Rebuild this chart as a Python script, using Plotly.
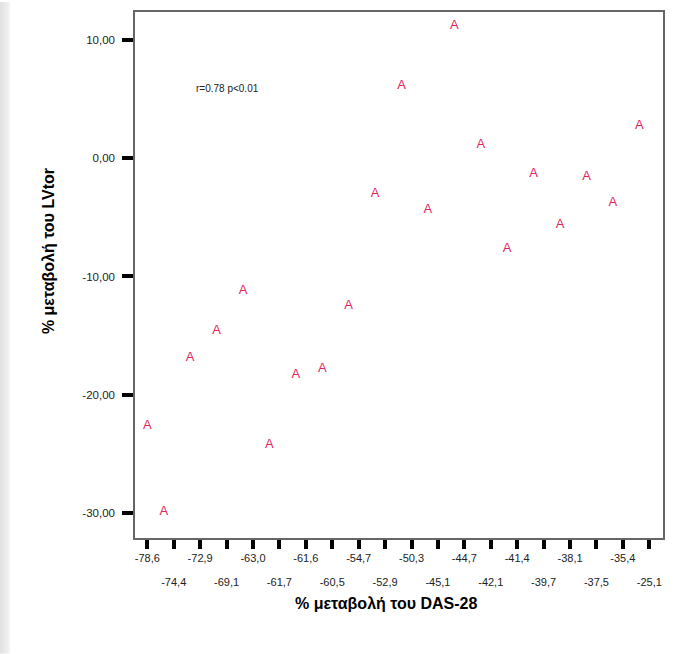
import plotly.graph_objects as go

# Categories on the x axis (% change of DAS-28), in axis order
das28_labels = ["-78,6", "-74,4", "-72,9", "-69,1", "-63,0", "-61,7", "-61,6", "-60,5",
                "-54,7", "-52,9", "-50,3", "-45,1", "-44,7", "-42,1", "-41,4", "-39,7",
                "-38,1", "-37,5", "-35,4", "-25,1"]

# % change of LVtor for each category
lvtor_change = [-22.6, -29.9, -16.9, -14.6, -11.2, -24.2, -18.3, -17.8,
                -12.5, -3.0, 6.1, -4.4, 11.2, 1.1, -7.7, -1.3,
                -5.6, -1.6, -3.8, 2.7]

y_tickvals = [10, 0, -10, -20, -30]
y_ticktext = ["10,00", "0,00", "-10,00", "-20,00", "-30,00"]

x_pos = list(range(len(das28_labels)))
odd_idx = [i for i in x_pos if i % 2 == 1]

FONT = "Liberation Sans, Arial, sans-serif"
MARK = "#e2275e"

W, H = 694, 654
L, T, R, B = 135, 10, 31, 116
PW, PH = W - L - R, H - T - B


def px_x(xp):
    return (xp - L) / PW


def px_y(yp):
    return (H - B - yp) / PH


fig = go.Figure()
fig.add_trace(go.Scatter(
    x=x_pos, y=lvtor_change,
    mode="markers+text",
    text=["A"] * len(x_pos),
    textposition=["middle center"] + ["middle left"] * (len(x_pos) - 1),
    textfont=dict(family=FONT, size=13, color=MARK),
    marker=dict(size=7.4, opacity=0),
    hoverinfo="skip",
    showlegend=False,
    cliponaxis=False,
))

xrange = [-0.466, 19.52]
fig.update_layout(
    width=W, height=H,
    margin=dict(l=L, r=R, t=T, b=B),
    paper_bgcolor="white", plot_bgcolor="white",
    showlegend=False,
    xaxis=dict(
        range=xrange, tickmode="array", tickvals=x_pos,
        ticktext=[das28_labels[i] if i % 2 == 0 else "" for i in x_pos],
        ticks="outside", ticklen=9, tickwidth=3.5, tickcolor="black",
        showline=True, linecolor="#666666", linewidth=1.5, mirror=True,
        showgrid=False, zeroline=False,
        tickfont=dict(family=FONT, size=11, color="#222222"),
    ),
    xaxis2=dict(
        range=xrange, overlaying="x", anchor="y", side="bottom",
        tickmode="array", tickvals=odd_idx,
        ticktext=[das28_labels[i] for i in odd_idx],
        ticks="", showline=False, showgrid=False, zeroline=False,
        ticklabelstandoff=36,
        tickfont=dict(family=FONT, size=11, color="#222222"),
    ),
    yaxis=dict(
        range=[-32.08, 12.33], tickmode="array", tickvals=y_tickvals, ticktext=y_ticktext,
        ticks="outside", ticklen=11, tickwidth=4, tickcolor="black",
        showline=True, linecolor="#666666", linewidth=1.5, mirror=True,
        showgrid=False, zeroline=False, ticklabelstandoff=5,
        tickfont=dict(family=FONT, size=11.5, color="#222222"),
    ),
)

# invisible trace to bind xaxis2
fig.add_trace(go.Scatter(x=[x_pos[0]], y=[lvtor_change[0]], xaxis="x2", mode="markers",
                         marker=dict(opacity=0), hoverinfo="skip", showlegend=False))

fig.add_annotation(text="r=0.78 p<0.01", xref="paper", yref="paper",
                   x=px_x(227), y=px_y(87), xanchor="center", yanchor="middle", showarrow=False,
                   font=dict(family=FONT, size=10, color="#222222"))
fig.add_annotation(text="<b>% μεταβολή του DAS-28</b>", xref="paper", yref="paper",
                   x=px_x(386), y=px_y(604), xanchor="center", yanchor="middle", showarrow=False,
                   font=dict(family=FONT, size=16, color="black"))
fig.add_annotation(text="<b>% μεταβολή του LVtor</b>", xref="paper", yref="paper",
                   x=px_x(48), y=px_y(250), xanchor="center", yanchor="middle", showarrow=False,
                   textangle=-90,
                   font=dict(family=FONT, size=16, color="black"))

# left page-edge shading strip
greys = ["#e2e2e2", "#e6e6e6", "#eaeaea", "#eeeeee", "#f3f3f3"]
for k, g in enumerate(greys):
    fig.add_shape(type="rect", xref="paper", yref="paper", layer="below",
                  x0=px_x(2 * k), x1=px_x(2 * k + 2),
                  y0=px_y(H), y1=px_y(0),
                  fillcolor=g, line=dict(width=0))

fig.write_html("out.html", config={"displayModeBar": False},
               post_script="document.body.style.margin='0';")
